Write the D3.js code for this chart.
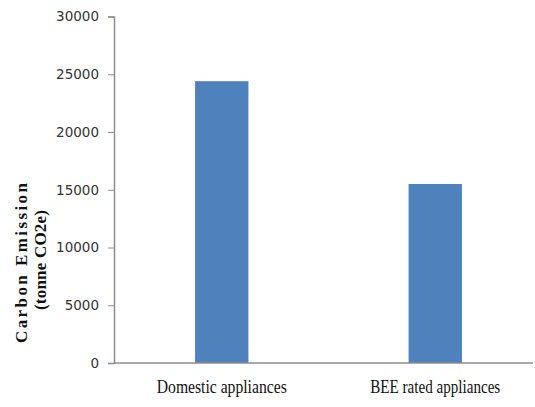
<!DOCTYPE html>
<html><head><meta charset="utf-8">
<script src="https://cdn.jsdelivr.net/npm/d3@7"></script>
<style>body{margin:0;background:#fff}</style>
</head><body>
<svg id="c" width="535" height="407"></svg>
<script>
const categories = ["Domestic appliances", "BEE rated appliances"];
const values = [24400, 15500];
const yTicks = [0, 5000, 10000, 15000, 20000, 25000, 30000];

const svg = d3.select("#c");
const x = d3.scaleBand().domain(categories).range([115, 542]).padding(0);
const y = d3.scaleLinear().domain([0, 30000]).range([363, 16.5]);
const barW = x.bandwidth() * 0.25;

svg.selectAll("rect.bar").data(values).enter().append("rect")
  .attr("class", "bar")
  .attr("x", (d, i) => x(categories[i]) + x.bandwidth() / 2 - barW / 2)
  .attr("y", d => y(d))
  .attr("width", barW)
  .attr("height", d => y(0) - y(d))
  .attr("fill", "#4F81BD");

const yAxis = svg.append("g").attr("transform", "translate(114,0)")
  .call(d3.axisLeft(y).tickValues(yTicks).tickSize(6).tickPadding(9).tickFormat(d3.format("d")));
yAxis.select(".domain").attr("stroke", "#8c8c8c").attr("stroke-width", 1.5);
yAxis.selectAll(".tick line").attr("stroke", "#8c8c8c");
yAxis.selectAll(".tick text").attr("font-family", "DejaVu Sans").attr("font-size", 13.5).attr("fill", "#333");

svg.append("line").attr("x1", 114).attr("x2", 533).attr("y1", y(0)).attr("y2", y(0))
  .attr("stroke", "#8c8c8c").attr("stroke-width", 1.5);

svg.selectAll("text.xl").data(categories).enter().append("text")
  .attr("class", "xl")
  .attr("x", d => x(d) + x.bandwidth() / 2)
  .attr("y", 393)
  .attr("text-anchor", "middle")
  .attr("font-family", "Liberation Serif")
  .attr("font-size", 19)
  .attr("textLength", 130)
  .attr("lengthAdjust", "spacingAndGlyphs")
  .attr("fill", "#111")
  .text(d => d);

svg.append("text")
  .attr("transform", "translate(27,263) rotate(-90)")
  .attr("text-anchor", "middle")
  .attr("font-family", "Liberation Serif").attr("font-weight", "bold").attr("font-size", 17)
  .attr("textLength", 160).attr("lengthAdjust", "spacing")
  .attr("fill", "#111")
  .text("Carbon Emission");
svg.append("text")
  .attr("transform", "translate(46,260) rotate(-90)")
  .attr("text-anchor", "middle")
  .attr("font-family", "Liberation Serif").attr("font-weight", "bold").attr("font-size", 17)
  .attr("textLength", 100).attr("lengthAdjust", "spacing")
  .attr("fill", "#111")
  .text("(tonne CO2e)");
</script>
</body></html>
